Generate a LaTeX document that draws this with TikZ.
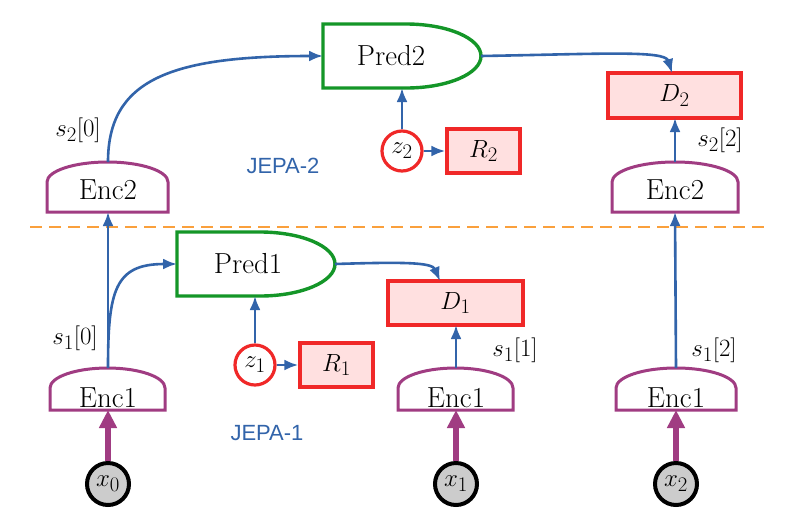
\documentclass[tikz,border=0pt]{standalone}
\usepackage{fontspec}
\newfontfamily\jfont{Liberation Sans}
\usetikzlibrary{arrows.meta}
\definecolor{cblue}{RGB}{50,100,170}
\definecolor{cpurple}{RGB}{160,60,130}
\definecolor{cgreen}{RGB}{20,150,40}
\definecolor{cred}{RGB}{240,40,40}
\definecolor{cpink}{RGB}{255,224,224}
\definecolor{corange}{RGB}{250,160,60}
\begin{document}
\begin{tikzpicture}[x=1pt,y=-1pt,font=\fontsize{29}{34}\selectfont,
  box/.style={inner sep=0pt},
  encshape/.style={draw=cpurple,line width=3pt,fill=white},
  predshape/.style={draw=cgreen,line width=3.4pt,fill=white},
  dbox/.style={draw=cred,line width=3.4pt,fill=cpink,inner sep=0pt},
  zc/.style={circle,draw=cred,line width=3.2pt,fill=white,minimum size=40pt,inner sep=0pt},
  xc/.style={circle,draw=black,line width=4pt,fill=black!20,minimum size=42pt,inner sep=0pt},
  conn/.style={draw=cblue,line width=2.6pt,-{Latex[length=14pt,width=11pt]}},
  thick arrow/.style={draw=cpurple,line width=6pt,-{Triangle[length=18pt,width=17pt]}},
  lab/.style={inner sep=1pt},
  jepa/.style={text=cblue,font=\jfont\fontsize{22}{26}\selectfont}]
\useasboundingbox (0,0) rectangle (797,515);
\fill[white] (0,0) rectangle (797,515);
\draw[corange,line width=2.4pt,dash pattern=on 12pt off 7pt] (30,227) -- (770,227);
\newcommand{\encpath}[4]{%
  \draw[encshape] (#1,#4) -- (#1,#3+20) arc[start angle=180,end angle=360,x radius={(#2-#1)/2},y radius=20] -- (#2,#4) -- cycle;}
\encpath{50}{165}{368}{410}
\encpath{398}{513}{368}{410}
\encpath{616}{736}{368}{410}
\encpath{47}{168}{162}{212}
\encpath{612}{738}{162}{212}
\node[box] (e1a) at (108,398) {Enc1};
\node[box] (e1b) at (456,398) {Enc1};
\node[box] (e1c) at (676,398) {Enc1};
\node[box] (e2a) at (108,190) {Enc2};
\node[box] (e2c) at (675,190) {Enc2};
\coordinate (e1at) at (108,368); \coordinate (e1bt) at (456,368); \coordinate (e1ct) at (676,368);
\coordinate (e1ab) at (108,410); \coordinate (e1bb) at (456,410); \coordinate (e1cb) at (676,410);
\coordinate (e2at) at (108,162); \coordinate (e2ab) at (108,212);
\coordinate (e2ct) at (675,162); \coordinate (e2cb) at (675,212);
\draw[predshape] (177,232) -- (260,232) arc[start angle=-90,end angle=90,x radius=75,y radius=32] -- (177,296) -- cycle;
\draw[predshape] (323,24) -- (406,24) arc[start angle=-90,end angle=90,x radius=75,y radius=32] -- (323,88) -- cycle;
\node[box] (p1) at (248,264) {Pred1};
\node[box] (p2) at (391,56) {Pred2};
\coordinate (p1l) at (177,264); \coordinate (p1r) at (335,264); \coordinate (p1b) at (255,296);
\coordinate (p2l) at (323,56); \coordinate (p2r) at (481,56); \coordinate (p2b) at (402,88);
\node[dbox,minimum width=135pt,minimum height=44pt] (d1) at (455.5,303) {$D_1$};
\node[dbox,minimum width=133pt,minimum height=45pt] (d2) at (674.5,95.5) {$D_2$};
\node[dbox,minimum width=73pt,minimum height=44pt] (r1) at (336.5,365) {$R_1$};
\node[dbox,minimum width=73pt,minimum height=44pt] (r2) at (483.5,151) {$R_2$};
\node[zc] (z1) at (255,365) {$z_1$};
\node[zc] (z2) at (402,151) {$z_2$};
\node[xc] (x0) at (108,484) {$x_0$};
\node[xc] (x1) at (456,484) {$x_1$};
\node[xc] (x2) at (676,484) {$x_2$};
\node[lab] (l10) at (75,338) {$s_1[0]$};
\node[lab] (l11) at (515,350) {$s_1[1]$};
\node[lab] (l12) at (714,350) {$s_1[2]$};
\node[lab] (l20) at (78,130) {$s_2[0]$};
\node[lab] (l22) at (720,140) {$s_2[2]$};
\node[jepa] (j2) at (283,166) {JEPA-2};
\node[jepa] (j1) at (267,433) {JEPA-1};
\draw[thick arrow] (x0) -- (e1ab);
\draw[thick arrow] (x1) -- (e1bb);
\draw[thick arrow] (x2) -- (e1cb);
\draw[conn] (e1at) -- (e2ab);
\draw[conn] (e1at) .. controls (108,290) and (115,264) .. (p1l);
\draw[conn] (p1r) .. controls (400,262) and (432,262) .. (440,281);
\draw[conn] (z1) -- (p1b);
\draw[conn] (z1) -- (r1);
\draw[conn] (e1bt) -- (456,325);
\draw[conn] (e1ct) -- (e2cb);
\draw[conn] (e2at) .. controls (108,80) and (170,56) .. (p2l);
\draw[conn] (p2r) .. controls (600,54) and (665,50) .. (672,73);
\draw[conn] (z2) -- (p2b);
\draw[conn] (z2) -- (r2);
\draw[conn] (e2ct) -- (675,118);
\end{tikzpicture}
\end{document}
